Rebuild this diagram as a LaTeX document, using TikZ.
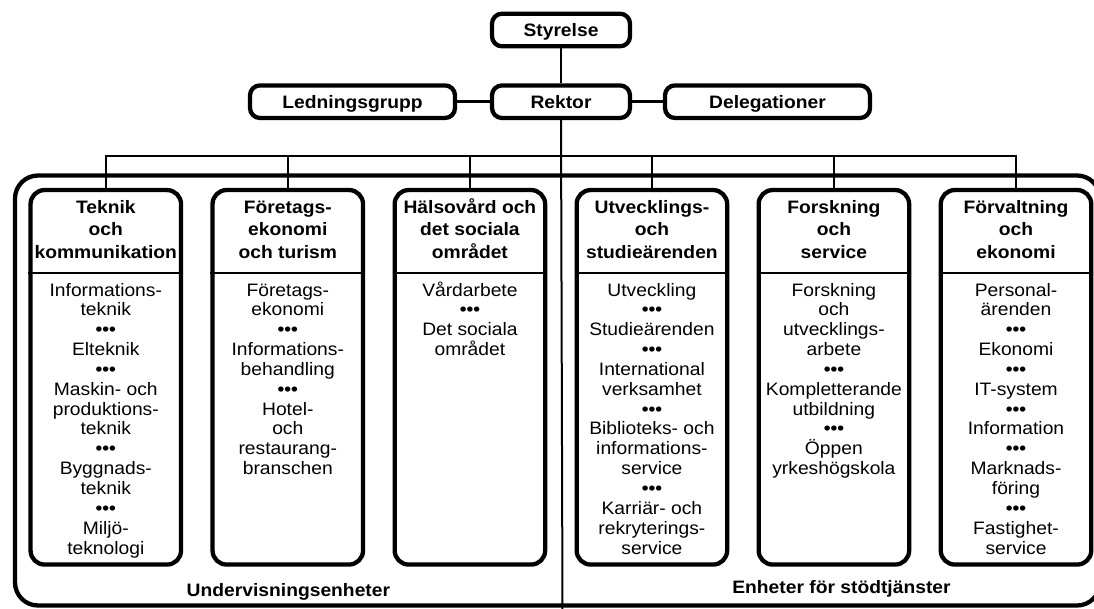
\documentclass[tikz,border=0pt]{standalone}
\usepackage{fontspec}
\setmainfont{Liberation Sans}[FakeStretch=1.07]
\newcommand\dotrow{\textbf{•••}}
\begin{document}
\begin{tikzpicture}[x=1pt,y=-1pt,
  box/.style={draw, line width=4.3pt, inner sep=0pt},
  topbox/.style={box, rounded corners=10pt, minimum height=32.6pt, font=\bfseries\fontsize{18}{20}\selectfont, text height=13pt, text depth=0pt},
  colbox/.style={box, rounded corners=14pt, minimum width=150.5pt, minimum height=374.5pt},
  hdtext/.style={align=center, font=\bfseries\fontsize{18}{22.5}\selectfont, anchor=base, inner sep=0pt},
  bodytext/.style={align=center, font=\fontsize{18}{19.85}\selectfont, anchor=base, inner sep=0pt},
  conn/.style={line width=2.3pt},
  sideconn/.style={line width=3.3pt},
  foot/.style={font=\bfseries\fontsize{18}{20}\selectfont, anchor=base, inner sep=0pt}
]
\fill[white] (0,0) rectangle (1094,608);
\useasboundingbox (0,0) rectangle (1094,608);

% top level
\node[topbox, minimum width=138pt] (styrelse) at (561,30) {Styrelse};
\node[topbox, minimum width=138pt] (rektor) at (561,101.7) {Rektor};
\node[topbox, minimum width=205pt] (lg) at (352.5,101.7) {Ledningsgrupp};
\node[topbox, minimum width=205pt] (del) at (767.5,101.7) {Delegationer};

% outer frame
\draw[line width=4.3pt, rounded corners=23pt] (15,175.5) rectangle (1100,605.5);

% columns
\node[colbox] (c1) at (105.8,377.3) {};
\node[colbox] (c2) at (287.8,377.3) {};
\node[colbox] (c3) at (469.9,377.3) {};
\node[colbox] (c4) at (651.9,377.3) {};
\node[colbox] (c5) at (833.9,377.3) {};
\node[colbox] (c6) at (1016,377.3) {};

% connectors
\coordinate (bus) at (562.5,156);
\coordinate (bottom) at (562.5,612);
\coordinate (hd) at (0,272.7);
\draw[conn] (styrelse) -- (rektor);
\draw[sideconn] (lg) -- (rektor);
\draw[sideconn] (rektor) -- (del);
\draw[line width=2pt] (rektor.south) -- (bottom);
\foreach \c in {c1,c2,c3,c4,c5,c6}{
  \draw[conn] (bus) -| (\c.north);
  \draw[conn] (\c.west |- hd) -- (\c.east |- hd);
}

% headers (base anchor = baseline of last line)
\node[hdtext] (h1) at (105.8,258.3) {Teknik\\och\\kommunikation};
\node[hdtext] (h2) at (287.8,258.3) {Företags-\\ekonomi\\och turism};
\node[hdtext] (h3) at (469.9,258.3) {Hälsovård och\\det sociala\\området};
\node[hdtext] (h4) at (651.9,258.3) {Utvecklings-\\och\\studieärenden};
\node[hdtext] (h5) at (833.9,258.3) {Forskning\\och\\service};
\node[hdtext] (h6) at (1016,258.3) {Förvaltning\\och\\ekonomi};

% bodies (base anchor = baseline of last line)
\node[bodytext] (b1) at (105.8,554.05) {Informations-\\teknik\\\dotrow\\Elteknik\\\dotrow\\Maskin- och\\produktions-\\teknik\\\dotrow\\Byggnads-\\teknik\\\dotrow\\Miljö-\\teknologi};
\node[bodytext] (b2) at (287.8,474.65) {Företags-\\ekonomi\\\dotrow\\Informations-\\behandling\\\dotrow\\Hotel-\\och\\restaurang-\\branschen};
\node[bodytext] (b3) at (469.9,355.55) {Vårdarbete\\\dotrow\\Det sociala\\området};
\node[bodytext] (b4) at (651.9,554.05) {Utveckling\\\dotrow\\Studieärenden\\\dotrow\\International\\verksamhet\\\dotrow\\Biblioteks- och\\informations-\\service\\\dotrow\\Karriär- och\\rekryterings-\\service};
\node[bodytext] (b5) at (833.9,474.65) {Forskning\\och\\utvecklings-\\arbete\\\dotrow\\Kompletterande\\utbildning\\\dotrow\\Öppen\\yrkeshögskola};
\node[bodytext] (b6) at (1016,554.05) {Personal-\\ärenden\\\dotrow\\Ekonomi\\\dotrow\\IT-system\\\dotrow\\Information\\\dotrow\\Marknads-\\föring\\\dotrow\\Fastighet-\\service};

% footers
\node[foot] (f1) at (288.4,596.5) {Undervisningsenheter};
\node[foot] (f2) at (841.5,593.5) {Enheter för stödtjänster};
\end{tikzpicture}
\end{document}
